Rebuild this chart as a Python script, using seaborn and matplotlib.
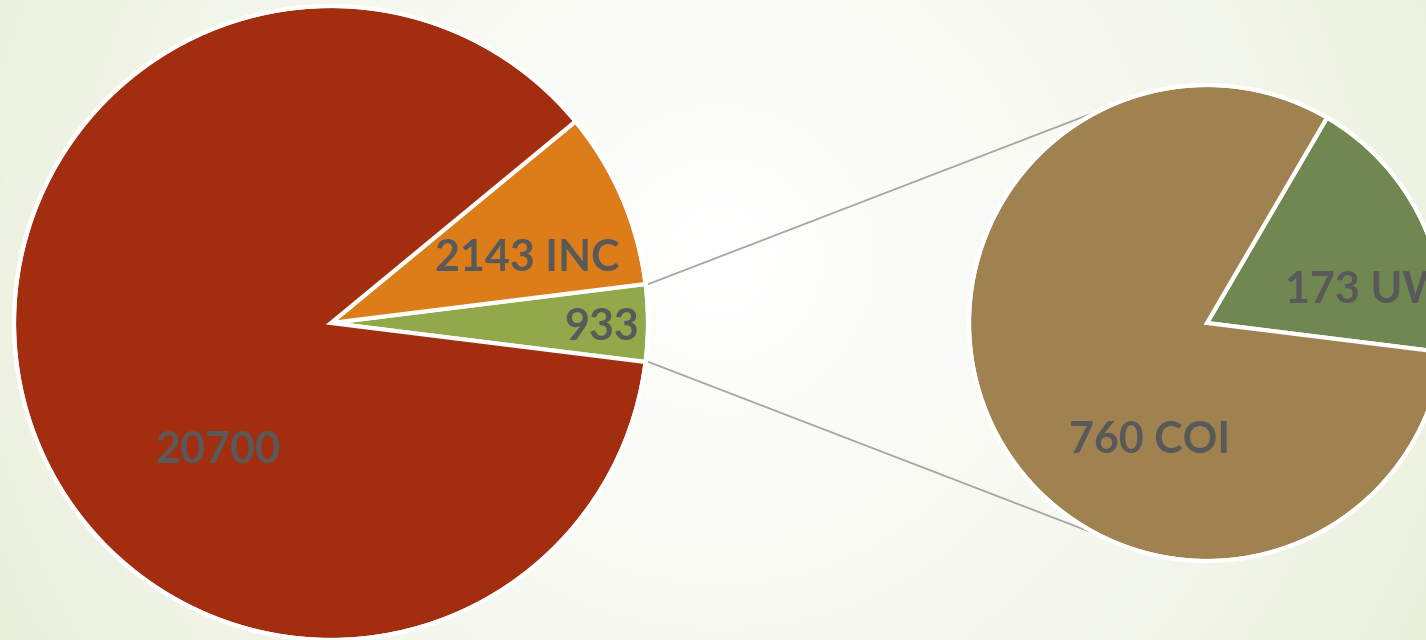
import numpy as np
import seaborn as sns
import matplotlib.pyplot as plt
from matplotlib.colors import LinearSegmentedColormap

# main pie: the small slice first so it sits on the right, centred at 0 degrees
main_labels = ['933', '2143 INC', '20700']
main_values = [933, 2143, 20700]
main_colors = ['#93a84b', '#dc7d1a', '#a32d0f']

# breakdown of the 933 slice
sub_labels = ['173 UW', '760 COI']
sub_values = [173, 760]
sub_colors = ['#718751', '#9f8250']

sns.set_style('white')
plt.rcParams['font.family'] = ['Lato', 'DejaVu Sans']

W, H = 1426, 640
fig = plt.figure(figsize=(W / 100, H / 100), dpi=100)
ax = fig.add_axes([0, 0, 1, 1])
ax.set_xlim(0, W)
ax.set_ylim(0, H)
ax.axis('off')

# soft radial background
yy, xx = np.mgrid[0:H, 0:W]
dist = np.hypot(xx - 720, yy - 380) / 900
bg = LinearSegmentedColormap.from_list('bg', ['#ffffff', '#f6f8ef', '#e8eed8'])
ax.imshow(dist, cmap=bg, vmin=0, vmax=1, extent=[0, W, 0, H], origin='lower', zorder=0)

c1, r1 = (331, 317), 317
c2, r2 = (1207, 317), 238

share = main_values[0] / sum(main_values) * 360
start1 = -share / 2
ax.pie(main_values, colors=main_colors, startangle=start1, counterclock=True,
       center=c1, radius=r1, frame=True,
       wedgeprops=dict(edgecolor='white', linewidth=3))

ax.pie(sub_values, colors=sub_colors, startangle=start1, counterclock=True,
       center=c2, radius=r2, frame=True,
       wedgeprops=dict(edgecolor='white', linewidth=3))
ax.set_xlim(0, W)
ax.set_ylim(0, H)
ax.set_aspect('equal')
ax.axis('off')

# outline circles
for c, r in [(c1, r1), (c2, r2)]:
    ax.add_patch(plt.Circle(c, r, fill=False, ec='white', lw=3, zorder=5))

# connector lines between the pies
for a1, a2 in [(share / 2, 116.7), (-share / 2, 243.3)]:
    p = (c1[0] + r1 * np.cos(np.radians(a1)), c1[1] + r1 * np.sin(np.radians(a1)))
    q = (c2[0] + r2 * np.cos(np.radians(a2)), c2[1] + r2 * np.sin(np.radians(a2)))
    ax.plot([p[0] + 3, q[0]], [p[1], q[1]], color='#a6a6a6', lw=1.3, zorder=1)

label_pos = {
    '933': (602, 313, 'center'),
    '2143 INC': (527, 382, 'center'),
    '20700': (218, 190, 'center'),
    '760 COI': (1150, 200, 'center'),
    '173 UW': (1285, 350, 'left'),
}
for lab in main_labels + sub_labels:
    x, y, ha = label_pos[lab]
    ax.text(x, y, lab, ha=ha, va='center', fontsize=31, fontweight='bold',
            color='#595959', zorder=6)

fig.savefig('out.png', dpi=100)
